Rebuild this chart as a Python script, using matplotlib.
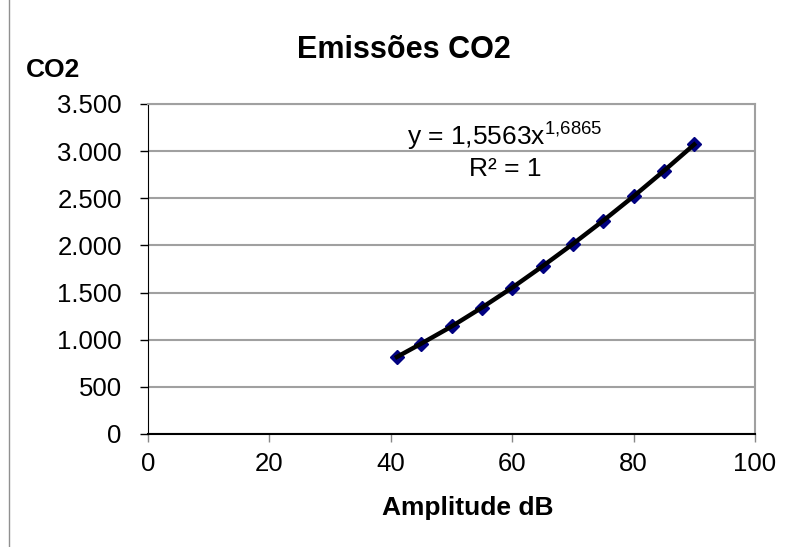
import matplotlib.pyplot as plt
from matplotlib.lines import Line2D

plt.rcParams['font.family'] = ['Liberation Sans', 'DejaVu Sans']
plt.rcParams['mathtext.fontset'] = 'custom'
plt.rcParams['mathtext.rm'] = 'Liberation Sans'
plt.rcParams['mathtext.it'] = 'Liberation Sans'

amplitude = [41, 45, 50, 55, 60, 65, 70, 75, 80, 85, 90]
co2 = [817, 958, 1140, 1340, 1552, 1779, 2015, 2262, 2520, 2790, 3070]
x_ticks = [0, 20, 40, 60, 80, 100]
y_ticks = [0, 500, 1000, 1500, 2000, 2500, 3000, 3500]
y_labels = ['0', '500', '1.000', '1.500', '2.000', '2.500', '3.000', '3.500']

fig = plt.figure(figsize=(7.88, 5.47), dpi=100)
ax = fig.add_axes([0.188, 0.2066, 0.770, 0.6034])

ax.plot(amplitude, co2, color='black', lw=3.2, zorder=3)
ax.plot(amplitude, co2, ls='none', marker='D', ms=7, color='#000080', zorder=2)

ax.set_xlim(0, 100)
ax.set_ylim(0, 3500)
ax.set_xticks(x_ticks)
ax.set_yticks(y_ticks)
ax.set_yticklabels(y_labels)
ax.tick_params(axis='y', direction='out', length=6, width=1, labelsize=18.5, pad=13, colors='black')
ax.tick_params(axis='x', direction='out', length=6, width=1, labelsize=18.5, pad=7,
               colors='#888888', labelcolor='black')
ax.yaxis.grid(True, color='#a0a0a0', lw=1.5)
ax.set_axisbelow(True)
for s in ['top', 'right']:
    ax.spines[s].set_color('#a0a0a0')
    ax.spines[s].set_linewidth(1.5)
ax.spines['left'].set_color('black')
ax.spines['bottom'].set_color('black')
ax.spines['bottom'].set_linewidth(1.5)

ax.text(58.8, 3150, r'y = 1,5563x$^{\mathrm{1{,}6865}}$', ha='center', va='center', fontsize=19)
ax.text(58.8, 2810, 'R² = 1', ha='center', va='center', fontsize=19)

fig.text(0.512, 0.908, 'Emissões CO2', ha='center', va='center', fontsize=22, weight='bold')
fig.text(0.033, 0.872, 'CO2', ha='left', va='center', fontsize=19, weight='bold')
fig.text(0.593, 0.072, 'Amplitude dB', ha='center', va='center', fontsize=19, weight='bold')

fig.add_artist(Line2D([0.011, 0.011], [0, 1], color='#909090', lw=1, transform=fig.transFigure))

fig.savefig('out.png', dpi=100)
